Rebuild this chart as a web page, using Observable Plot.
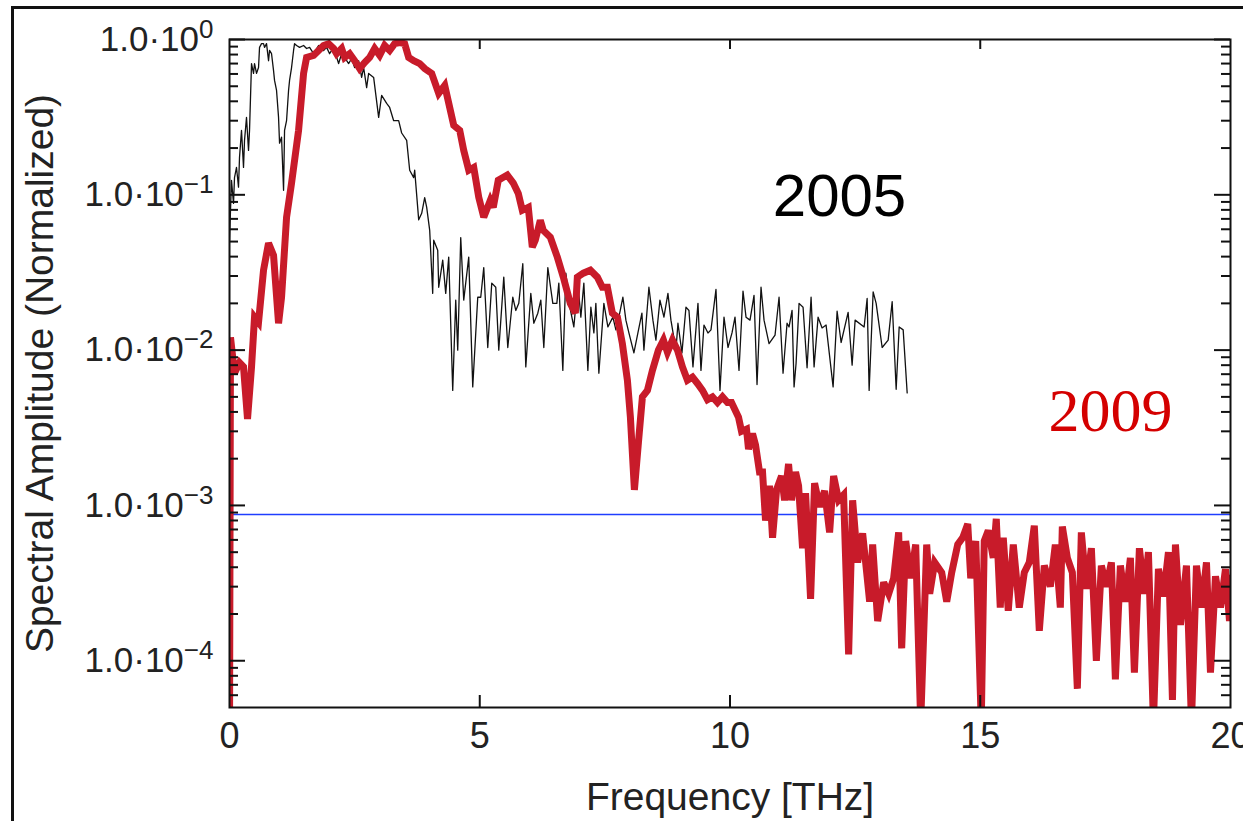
<!DOCTYPE html>
<html><head><meta charset="utf-8">
<script src="https://cdn.jsdelivr.net/npm/d3@7"></script>
<script src="https://cdn.jsdelivr.net/npm/@observablehq/plot@0.6"></script>
<style>
html,body{margin:0;padding:0;background:#fff;}
#wrap{position:relative;width:1243px;height:821px;overflow:hidden;}
#outer{position:absolute;left:11px;top:6px;width:1300px;height:900px;border-left:3px solid #111;border-top:3px solid #111;pointer-events:none;}
</style></head><body>
<div id="wrap"><div id="chart"></div><div id="outer"></div></div>
<script>
// [frequency THz, normalized spectral amplitude]
const spectrum2005 = [
[0,0.051],[0.04,0.124],[0.08,0.088],[0.10,0.129],[0.14,0.15],[0.18,0.112],[0.20,0.174],[0.24,0.26],[0.28,0.15],[0.30,0.224],
[0.34,0.315],[0.38,0.193],[0.40,0.26],[0.44,0.70],[0.48,0.605],[0.50,0.70],[0.54,0.605],[0.58,0.66],[0.60,0.89],[0.64,0.94],
[0.68,0.94],[0.70,0.89],[0.74,0.94],[0.78,0.73],[0.80,0.85],[0.84,0.81],[0.88,0.63],[0.90,0.545],[0.94,0.47],[0.98,0.315],
[1.00,0.215],[1.04,0.235],[1.08,0.107],[1.10,0.26],[1.14,0.30],[1.18,0.47],[1.20,0.545],[1.24,0.66],[1.28,0.85],[1.30,0.94],
[1.34,0.915],[1.40,0.89],[1.48,0.915],[1.54,0.875],[1.60,0.89],[1.68,0.81],[1.78,0.915],[1.88,0.85],[1.94,0.89],[2.00,0.81],
[2.08,0.89],[2.18,0.70],[2.24,0.81],[2.30,0.766],[2.38,0.70],[2.44,0.755],[2.50,0.66],[2.58,0.73],[2.64,0.57],[2.68,0.66],
[2.74,0.49],[2.78,0.605],[2.88,0.57],[2.98,0.315],[3.04,0.437],[3.14,0.388],[3.20,0.365],[3.28,0.30],[3.38,0.30],[3.44,0.25],
[3.54,0.224],[3.60,0.144],[3.68,0.129],[3.70,0.144],[3.78,0.069],[3.84,0.076],[3.90,0.096],[3.94,0.083],[4.00,0.059],
[4.06,0.0232],[4.08,0.051],[4.16,0.044],[4.18,0.0254],[4.26,0.038],[4.32,0.0232],[4.38,0.0397],[4.46,0.0055],[4.52,0.021],
[4.56,0.01],[4.62,0.053],[4.68,0.021],[4.78,0.0397],[4.86,0.0058],[4.96,0.0219],[5.02,0.0219],[5.08,0.034],[5.16,0.0104],
[5.24,0.027],[5.32,0.0254],[5.38,0.01],[5.48,0.0295],[5.56,0.0104],[5.66,0.0219],[5.72,0.018],[5.78,0.02],[5.86,0.036],
[5.92,0.0078],[6.02,0.0232],[6.08,0.0149],[6.16,0.0173],[6.22,0.021],[6.28,0.0104],[6.36,0.034],[6.46,0.02],[6.54,0.02],
[6.58,0.027],[6.66,0.0074],[6.72,0.0313],[6.80,0.0189],[6.88,0.0141],[6.96,0.027],[7.02,0.0163],[7.08,0.027],[7.16,0.0074],
[7.22,0.0189],[7.28,0.0129],[7.32,0.02],[7.38,0.0071],[7.48,0.02],[7.56,0.0141],[7.66,0.0163],[7.72,0.0135],[7.78,0.0163],
[7.86,0.0219],[7.92,0.0156],[7.98,0.0129],[8.08,0.0096],[8.16,0.0129],[8.24,0.0173],[8.28,0.01],[8.38,0.0254],[8.46,0.0156],
[8.52,0.0116],[8.60,0.021],[8.68,0.0163],[8.76,0.0232],[8.82,0.0156],[8.92,0.01],[8.96,0.0149],[9.04,0.0096],[9.12,0.0189],
[9.18,0.018],[9.26,0.0078],[9.36,0.02],[9.42,0.0074],[9.48,0.0145],[9.56,0.0129],[9.62,0.0135],[9.72,0.0246],[9.80,0.0055],
[9.88,0.0163],[9.96,0.0104],[10.04,0.0129],[10.10,0.0163],[10.18,0.0074],[10.26,0.024],[10.32,0.0163],[10.40,0.0156],
[10.48,0.0225],[10.54,0.006],[10.62,0.0254],[10.68,0.0156],[10.78,0.011],[10.90,0.0125],[10.98,0.0219],[11.06,0.0071],
[11.14,0.0149],[11.18,0.0141],[11.24,0.018],[11.28,0.0058],[11.32,0.0082],[11.38,0.02],[11.46,0.0189],[11.54,0.0077],
[11.62,0.0219],[11.68,0.0078],[11.76,0.0163],[11.84,0.0139],[11.92,0.0145],[12.06,0.0058],[12.14,0.0178],[12.22,0.0112],
[12.36,0.0175],[12.44,0.008],[12.50,0.0156],[12.68,0.0141],[12.74,0.0215],[12.78,0.0055],[12.86,0.0237],[12.92,0.02],
[13.04,0.0104],[13.16,0.0116],[13.24,0.0205],[13.32,0.0056],[13.38,0.0141],[13.46,0.0135],[13.54,0.0053]
];
const spectrum2009 = [
[0,3e-5],[0.02,0.0121],[0.10,0.0071],[0.20,0.0083],[0.28,0.0078],[0.36,0.0036],[0.44,0.0078],[0.50,0.0163],[0.58,0.0151],
[0.68,0.0327],[0.78,0.0488],[0.88,0.0408],[0.98,0.0149],[1.04,0.0219],[1.14,0.0717],[1.24,0.119],[1.38,0.26],[1.48,0.605],
[1.54,0.766],[1.68,0.79],[1.78,0.85],[1.88,0.915],[1.98,0.94],[2.08,0.875],[2.14,0.81],[2.24,0.875],[2.30,0.766],[2.40,0.81],
[2.50,0.73],[2.60,0.65],[2.70,0.71],[2.80,0.766],[2.90,0.875],[3.00,0.79],[3.10,0.915],[3.20,0.85],[3.30,0.94],[3.40,0.956],
[3.50,0.94],[3.58,0.766],[3.68,0.73],[3.80,0.70],[3.90,0.65],[4.04,0.605],[4.18,0.45],[4.30,0.506],[4.48,0.28],[4.60,0.26],
[4.68,0.193],[4.78,0.144],[4.88,0.15],[4.98,0.0963],[5.08,0.0717],[5.21,0.092],[5.27,0.083],[5.37,0.124],[5.55,0.134],
[5.67,0.119],[5.77,0.102],[5.85,0.0795],[5.97,0.083],[6.05,0.046],[6.11,0.051],[6.21,0.0686],[6.27,0.059],[6.41,0.0533],
[6.55,0.0397],[6.67,0.0295],[6.81,0.02],[6.91,0.0173],[6.95,0.0295],[7.07,0.0313],[7.21,0.0327],[7.35,0.0295],[7.45,0.0254],
[7.55,0.0254],[7.65,0.0173],[7.75,0.0163],[7.85,0.011],[7.95,0.0064],[8.01,0.0037],[8.09,0.00126],[8.17,0.00253],[8.25,0.005],
[8.35,0.0055],[8.45,0.0074],[8.57,0.01],[8.67,0.0116],[8.75,0.0097],[8.85,0.0116],[8.95,0.01],[9.05,0.0078],[9.15,0.0064],
[9.25,0.0067],[9.35,0.0061],[9.45,0.0055],[9.55,0.0048],[9.65,0.005],[9.75,0.0046],[9.85,0.005],[9.95,0.0046],[10.03,0.0046],
[10.17,0.0037],[10.23,0.003],[10.33,0.0031],[10.37,0.0023],[10.45,0.0029],[10.51,0.00245],[10.59,0.00164],[10.65,0.00164],
[10.71,0.0008],[10.79,0.00134],[10.85,0.00062],[10.93,0.00126],[11.03,0.00155],[11.09,0.00108],[11.17,0.00185],[11.23,0.00108],
[11.31,0.00164],[11.37,0.00134],[11.45,0.00053],[11.51,0.0012],[11.61,0.00025],[11.69,0.00139],[11.79,0.00098],[11.89,0.00124],
[11.99,0.00067],[12.07,0.00155],[12.17,0.00108],[12.27,0.00117],[12.37,0.00011],[12.45,0.00108],[12.55,0.00043],[12.65,0.00066],
[12.71,0.00043],[12.79,0.00024],[12.85,0.00056],[12.95,0.00018],[13.07,0.00032],[13.17,0.00027],[13.27,0.00034],[13.37,0.00067],
[13.43,0.00012],[13.51,0.00059],[13.61,0.00034],[13.71,0.00056],[13.81,4e-5],[13.93,0.00056],[13.99,0.00027],[14.09,0.00043],
[14.23,0.00037],[14.33,0.00024],[14.43,0.00037],[14.55,0.00056],[14.65,0.00062],[14.75,0.00076],[14.81,0.00034],[14.91,0.00059],
[15.02,4e-5],[15.08,0.00059],[15.16,0.00069],[15.26,0.00046],[15.32,0.00082],[15.40,0.00022],[15.46,0.00062],[15.56,0.00021],
[15.66,0.00056],[15.78,0.00022],[15.88,0.00037],[15.98,0.00043],[16.08,0.00074],[16.18,0.000156],[16.28,0.00041],[16.40,0.0003],
[16.50,0.00056],[16.60,0.00022],[16.64,0.00073],[16.74,0.00046],[16.84,0.00037],[16.94,6.6e-5],[17.02,0.00067],[17.12,0.00029],
[17.22,0.00053],[17.32,0.0001],[17.42,0.00041],[17.52,0.0003],[17.62,0.00043],[17.70,7.6e-5],[17.80,0.00041],[17.90,0.00024],
[18.00,0.00046],[18.08,8.4e-5],[18.18,0.00053],[18.28,0.00027],[18.36,0.0005],[18.46,4e-5],[18.56,0.00039],[18.66,0.00026],
[18.76,0.0005],[18.84,5.6e-5],[18.90,0.00056],[19.00,0.00017],[19.12,0.00041],[19.22,4e-5],[19.32,0.00041],[19.42,0.00022],
[19.52,0.00043],[19.60,8.4e-5],[19.70,0.00035],[19.80,0.00022],[19.90,0.00039],[19.98,0.00018],[20.00,0.00034]
];
const noiseFloor = [8.75e-4];
const xTickValues = [0, 5, 10, 15, 20];
const xInnerTicks = [5, 10, 15];
const yMajorTicks = [1e-4, 1e-3, 1e-2, 1e-1, 1];
const yMinorTicks = [6e-5,7e-5,8e-5,9e-5, 2e-4,3e-4,4e-4,5e-4,6e-4,7e-4,8e-4,9e-4,
  2e-3,3e-3,4e-3,5e-3,6e-3,7e-3,8e-3,9e-3, 0.02,0.03,0.04,0.05,0.06,0.07,0.08,0.09,
  0.2,0.3,0.4,0.5,0.6,0.7,0.8,0.9];
const yLabel = "Spectral Amplitude (Normalized)";
const xLabel = "Frequency [THz]";
const seriesNames = ["2005", "2009"];

const rows2005 = spectrum2005.map(([f, a]) => ({f, a}));
const rows2009 = spectrum2009.map(([f, a]) => ({f, a}));

const W = 1243, H = 821, mL = 229, mT = 39, mR = 13, mB = 114;
const fw = W - mL - mR, fh = H - mT - mB;
const sans = "'Liberation Sans', Arial, Helvetica, sans-serif";

const svg = Plot.plot({
  width: W, height: H,
  marginLeft: mL, marginTop: mT, marginRight: mR, marginBottom: mB,
  style: {fontFamily: sans, fontSize: "36px", color: "#222", background: "transparent", overflow: "visible"},
  x: {domain: [0, 20], label: null},
  y: {type: "log", domain: [5e-5, 1], label: null},
  marks: [
    Plot.ruleY(noiseFloor, {y: d => d, stroke: "#1f3dff", strokeWidth: 1.6}),
    Plot.line(rows2005, {x: "f", y: "a", stroke: "#111", strokeWidth: 1.3, clip: true}),
    Plot.line(rows2009, {x: "f", y: "a", stroke: "#c81b2a", strokeWidth: 7, clip: true, strokeLinejoin: "miter", strokeMiterlimit: 3}),
    Plot.tickY(yMajorTicks, {y: d => d, insetRight: fw - 16, stroke: "#111", strokeWidth: 2}),
    Plot.tickY(yMinorTicks, {y: d => d, insetRight: fw - 9, stroke: "#111", strokeWidth: 2}),
    Plot.tickY(yMajorTicks, {y: d => d, insetLeft: fw - 16, stroke: "#111", strokeWidth: 2}),
    Plot.tickY(yMinorTicks, {y: d => d, insetLeft: fw - 9, stroke: "#111", strokeWidth: 2}),
    Plot.tickX(xInnerTicks, {x: d => d, insetBottom: fh - 10, stroke: "#111", strokeWidth: 2}),
    Plot.tickX(xInnerTicks, {x: d => d, insetTop: fh - 12, stroke: "#111", strokeWidth: 2}),
    Plot.frame({stroke: "#111", strokeWidth: 2}),
    Plot.axisY({ticks: yMajorTicks, tickSize: 0, tickPadding: 16, fontSize: 35,
      tickFormat: d => "1.0·10|" + String(Math.round(Math.log10(d))).replace("-", "−")}),
    Plot.axisX({ticks: xTickValues, tickSize: 0, tickPadding: 15, fontSize: 36, tickFormat: d => String(d)}),
    Plot.text([yLabel], {frameAnchor: "left", rotate: -90, dx: -189, fontSize: 39, textAnchor: "middle", lineAnchor: "middle", fill: "#222"}),
    Plot.text([xLabel], {frameAnchor: "bottom", dy: 90, fontSize: 39, textAnchor: "middle", lineAnchor: "middle", fill: "#222"}),
    Plot.text([seriesNames[0]], {frameAnchor: "top-left", dx: 610, dy: 157, fontSize: 60, textAnchor: "middle", lineAnchor: "middle", fill: "#000"}),
    Plot.text([seriesNames[1]], {frameAnchor: "top-left", dx: 881, dy: 372, fontSize: 62, textAnchor: "middle", lineAnchor: "middle", fill: "#d40000",
      fontFamily: "'Liberation Serif', 'Times New Roman', serif"})
  ]
});

d3.select(svg).selectAll('g[aria-label="y-axis tick label"] text').each(function () {
  const parts = this.textContent.split("|");
  this.textContent = "";
  const s = d3.select(this);
  s.append("tspan").text(parts[0]);
  s.append("tspan").attr("dy", "-0.5em").attr("font-size", "26px").text(parts[1]);
});

document.getElementById("chart").appendChild(svg);
</script>
</body></html>
